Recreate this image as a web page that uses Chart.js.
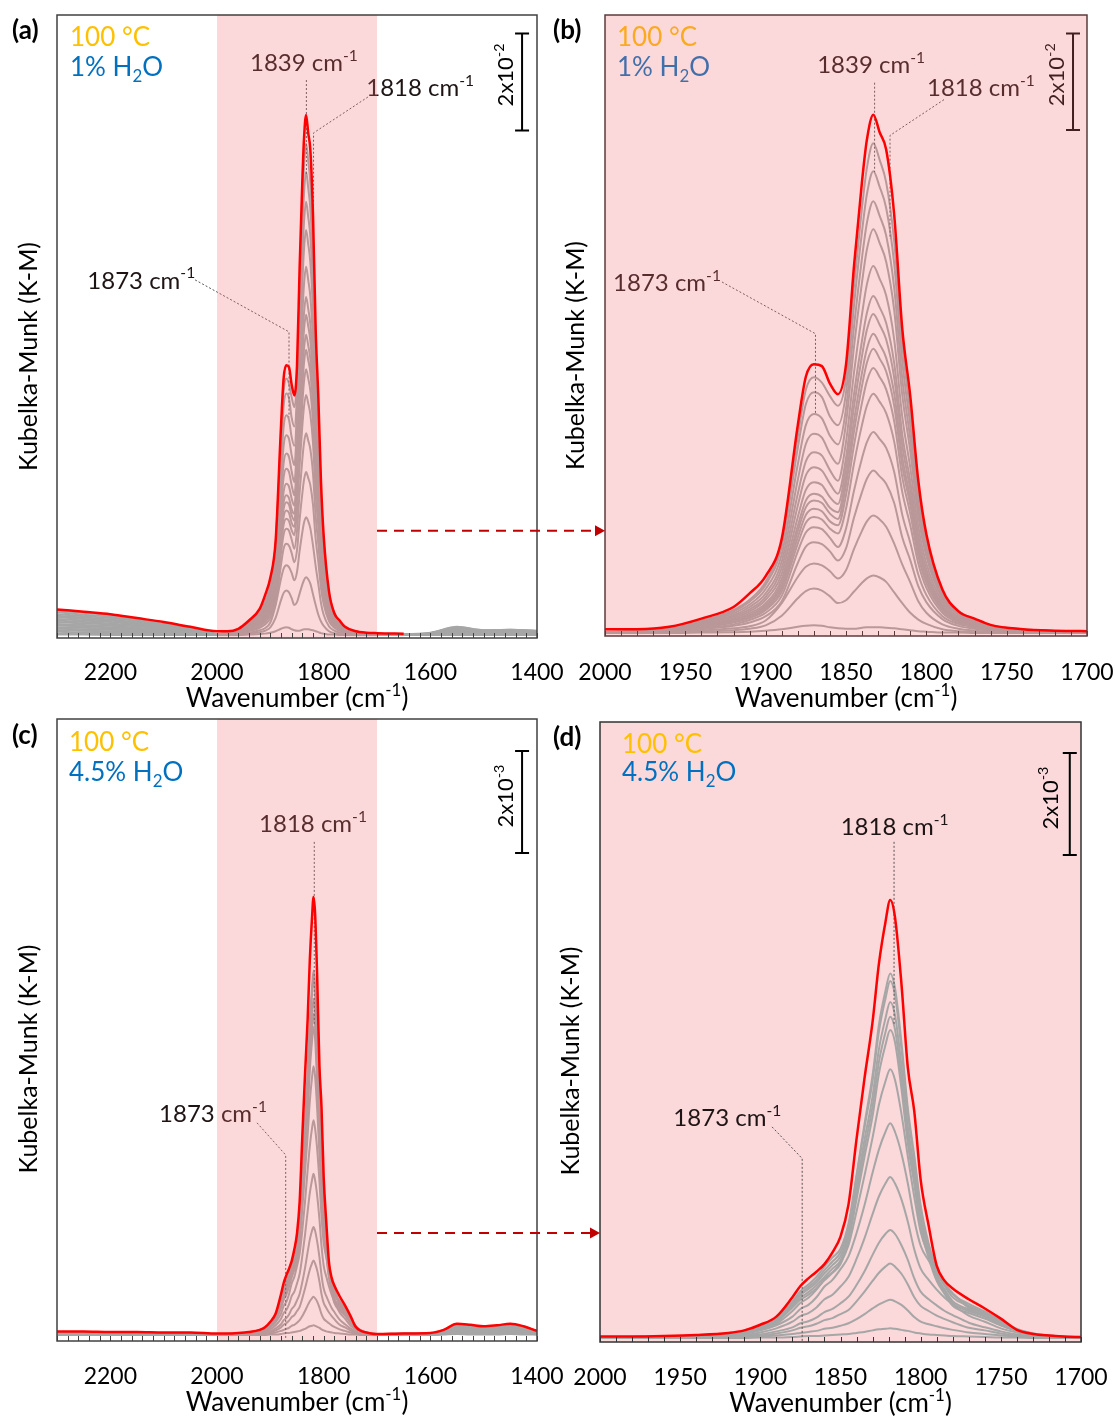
<!DOCTYPE html>
<html>
<head>
<meta charset="utf-8">
<script src="https://cdn.jsdelivr.net/npm/chart.js@4.4.1/dist/chart.umd.min.js"></script>
<style>
  body { margin: 0; background: #fff; }
  #page { position: relative; width: 1115px; height: 1419px; overflow: hidden; }
  canvas { position: absolute; }
</style>
</head>
<body>
<div id="page">
  <canvas id="panelA" width="610" height="712" style="left:0;top:0"></canvas>
  <canvas id="panelB" width="575" height="712" style="left:540px;top:0"></canvas>
  <canvas id="panelC" width="610" height="714" style="left:0;top:705px"></canvas>
  <canvas id="panelD" width="575" height="714" style="left:540px;top:705px"></canvas>
  <canvas id="arrows" width="1115" height="1419" style="left:0;top:0;pointer-events:none"></canvas>
</div>
<script>
// ---- 1% H2O spectra (K-M, units of 1e-2) ----
const wn1 = [2300, 2250, 2200, 2150, 2100, 2050, 2000, 1980, 1960, 1940, 1920, 1910, 1900, 1890, 1880, 1875, 1870, 1865, 1860, 1855, 1850, 1845, 1840, 1837, 1833, 1829, 1825, 1820, 1815, 1810, 1805, 1800, 1790, 1780, 1770, 1760, 1740, 1720, 1700, 1650, 1600, 1550, 1500, 1450, 1400]
const red1 = [0.53, 0.48, 0.43, 0.35, 0.27, 0.17, 0.08, 0.08, 0.13, 0.30, 0.54, 0.82, 1.18, 1.95, 4.30, 5.30, 5.56, 5.52, 5.16, 4.94, 5.55, 7.60, 9.35, 10.20, 10.72, 10.35, 10.00, 8.65, 6.30, 4.90, 3.15, 2.05, 0.90, 0.45, 0.30, 0.17, 0.08, 0.05, 0.04, 0.03, null, null, null, null, null]
const g1_01 = [0.50, 0.46, 0.41, 0.33, 0.26, 0.16, 0.03, 0.05, 0.11, 0.26, 0.48, 0.69, 1.06, 1.90, 4.07, 5.03, 5.29, 5.18, 4.90, 4.70, 5.27, 7.19, 8.81, 9.62, 10.13, 9.78, 9.32, 8.10, 5.98, 4.56, 2.94, 1.92, 0.86, 0.46, 0.28, 0.16, 0.08, 0.04, 0.03, 0.02, 0.05, 0.17, 0.10, 0.11, 0.09]
const g1_02 = [0.47, 0.42, 0.38, 0.31, 0.24, 0.15, 0.02, 0.05, 0.10, 0.25, 0.45, 0.65, 1.00, 1.79, 3.83, 4.73, 4.98, 4.88, 4.48, 4.30, 4.97, 6.78, 8.31, 9.07, 9.55, 9.22, 8.79, 7.64, 5.63, 4.30, 2.77, 1.81, 0.81, 0.43, 0.27, 0.15, 0.08, 0.04, 0.03, 0.02, 0.04, 0.16, 0.10, 0.11, 0.08]
const g1_03 = [0.43, 0.39, 0.35, 0.29, 0.22, 0.14, 0.02, 0.05, 0.09, 0.23, 0.41, 0.59, 0.91, 1.63, 3.49, 4.30, 4.53, 4.44, 4.08, 3.90, 4.64, 6.34, 7.77, 8.48, 8.93, 8.62, 8.22, 7.14, 5.27, 4.02, 2.59, 1.70, 0.76, 0.40, 0.25, 0.14, 0.07, 0.04, 0.03, 0.02, 0.04, 0.15, 0.09, 0.10, 0.07]
const g1_04 = [0.40, 0.36, 0.32, 0.26, 0.20, 0.13, 0.02, 0.04, 0.08, 0.21, 0.37, 0.54, 0.82, 1.48, 3.17, 3.91, 4.12, 4.04, 3.71, 3.50, 4.34, 5.93, 7.26, 7.93, 8.35, 8.06, 7.68, 6.68, 4.93, 3.76, 2.42, 1.59, 0.71, 0.38, 0.23, 0.13, 0.07, 0.03, 0.03, 0.02, 0.04, 0.14, 0.08, 0.09, 0.07]
const g1_05 = [0.37, 0.33, 0.30, 0.24, 0.19, 0.12, 0.02, 0.04, 0.07, 0.19, 0.34, 0.49, 0.75, 1.35, 2.88, 3.55, 3.74, 3.67, 3.37, 3.15, 3.95, 5.39, 6.60, 7.21, 7.59, 7.32, 6.98, 6.07, 4.48, 3.42, 2.20, 1.44, 0.65, 0.34, 0.21, 0.12, 0.06, 0.03, 0.02, 0.01, 0.03, 0.12, 0.08, 0.08, 0.06]
const g1_06 = [0.33, 0.30, 0.27, 0.22, 0.17, 0.11, 0.02, 0.03, 0.07, 0.17, 0.31, 0.45, 0.69, 1.23, 2.64, 3.26, 3.43, 3.36, 3.09, 2.88, 3.62, 4.95, 6.06, 6.62, 6.97, 6.73, 6.41, 5.58, 4.11, 3.14, 2.02, 1.32, 0.59, 0.31, 0.20, 0.11, 0.06, 0.03, 0.02, 0.01, 0.03, 0.11, 0.07, 0.08, 0.06]
const g1_07 = [0.30, 0.27, 0.24, 0.20, 0.15, 0.10, 0.02, 0.03, 0.06, 0.16, 0.28, 0.41, 0.62, 1.12, 2.40, 2.96, 3.12, 3.06, 2.81, 2.67, 3.43, 4.69, 5.74, 6.27, 6.60, 6.37, 6.07, 5.28, 3.89, 2.97, 1.91, 1.25, 0.56, 0.30, 0.18, 0.11, 0.05, 0.03, 0.02, 0.01, 0.03, 0.10, 0.06, 0.07, 0.05]
const g1_08 = [0.27, 0.24, 0.22, 0.18, 0.14, 0.09, 0.01, 0.03, 0.06, 0.14, 0.26, 0.37, 0.58, 1.04, 2.22, 2.74, 2.88, 2.82, 2.59, 2.50, 3.22, 4.39, 5.39, 5.88, 6.19, 5.97, 5.69, 4.95, 3.65, 2.79, 1.80, 1.18, 0.53, 0.28, 0.17, 0.10, 0.05, 0.02, 0.02, 0.01, 0.03, 0.09, 0.06, 0.06, 0.05]
const g1_09 = [0.23, 0.21, 0.19, 0.15, 0.12, 0.07, 0.01, 0.03, 0.05, 0.14, 0.25, 0.36, 0.55, 0.99, 2.11, 2.60, 2.74, 2.69, 2.47, 2.36, 3.06, 4.17, 5.12, 5.59, 5.88, 5.67, 5.41, 4.70, 3.47, 2.65, 1.71, 1.12, 0.50, 0.26, 0.16, 0.09, 0.05, 0.02, 0.02, 0.01, 0.02, 0.08, 0.05, 0.05, 0.04]
const g1_10 = [0.20, 0.18, 0.16, 0.13, 0.10, 0.06, 0.01, 0.03, 0.05, 0.13, 0.23, 0.33, 0.51, 0.93, 1.98, 2.44, 2.57, 2.52, 2.31, 2.23, 2.85, 3.89, 4.77, 5.21, 5.48, 5.29, 5.04, 4.38, 3.23, 2.47, 1.59, 1.04, 0.47, 0.25, 0.15, 0.09, 0.04, 0.02, 0.02, 0.01, 0.02, 0.07, 0.04, 0.05, 0.03]
const g1_11 = [0.16, 0.15, 0.13, 0.11, 0.08, 0.05, 0.01, 0.02, 0.05, 0.12, 0.22, 0.31, 0.48, 0.86, 1.85, 2.28, 2.40, 2.35, 2.16, 2.06, 2.57, 3.51, 4.31, 4.70, 4.95, 4.78, 4.55, 3.96, 2.92, 2.23, 1.44, 0.94, 0.42, 0.22, 0.14, 0.08, 0.04, 0.02, 0.01, 0.01, 0.02, 0.06, 0.03, 0.04, 0.03]
const g1_12 = [0.13, 0.12, 0.11, 0.09, 0.07, 0.04, 0.01, 0.02, 0.04, 0.10, 0.18, 0.27, 0.42, 0.77, 1.69, 2.08, 2.19, 2.15, 1.97, 1.78, 2.16, 2.95, 3.62, 3.95, 4.16, 4.01, 3.83, 3.33, 2.45, 1.87, 1.21, 0.79, 0.35, 0.19, 0.12, 0.07, 0.03, 0.02, 0.01, 0, 0.01, 0.05, 0.03, 0.03, 0.02]
const g1_13 = [0.10, 0.09, 0.08, 0.07, 0.05, 0.03, 0.01, 0.02, 0.03, 0.08, 0.15, 0.22, 0.35, 0.66, 1.45, 1.79, 1.88, 1.84, 1.69, 1.50, 1.75, 2.39, 2.92, 3.19, 3.36, 3.24, 3.09, 2.69, 1.98, 1.51, 0.97, 0.64, 0.29, 0.15, 0.09, 0.05, 0.03, 0.01, 0.01, 0, 0.01, 0.03, 0.02, 0.02, 0.02]
const g1_14 = [0.07, 0.06, 0.06, 0.05, 0.04, 0.02, 0, 0.01, 0.02, 0.05, 0.10, 0.14, 0.26, 0.62, 1.16, 1.37, 1.44, 1.40, 1.28, 1.13, 1.30, 1.74, 2.12, 2.31, 2.43, 2.35, 2.20, 1.85, 1.42, 1.05, 0.66, 0.42, 0.18, 0.09, 0.05, 0.03, 0.01, 0.01, 0, 0, 0.01, 0.02, 0.01, 0.02, 0.01]
const g1_15 = [0.03, 0.03, 0.03, 0.02, 0.02, 0.01, 0, 0, 0.01, 0.03, 0.06, 0.09, 0.16, 0.36, 0.72, 0.87, 0.92, 0.88, 0.76, 0.62, 0.68, 0.86, 1.04, 1.13, 1.19, 1.15, 1.06, 0.84, 0.62, 0.42, 0.28, 0.19, 0.08, 0.04, 0.02, 0.01, 0.01, 0, 0, 0, 0, 0.01, 0.01, 0.01, 0.01]
const g1_16 = [0.01, 0.01, 0, 0, 0, 0, 0, 0, 0, 0.01, 0.02, 0.03, 0.05, 0.08, 0.13, 0.15, 0.16, 0.15, 0.12, 0.10, 0.09, 0.09, 0.11, 0.12, 0.12, 0.12, 0.11, 0.10, 0.08, 0.06, 0.04, 0.03, 0.01, 0.01, 0, 0, 0, 0, 0, 0, 0, 0, 0, 0, 0]
const greys1 = [g1_01, g1_02, g1_03, g1_04, g1_05, g1_06, g1_07, g1_08, g1_09, g1_10, g1_11, g1_12, g1_13, g1_14, g1_15, g1_16]

// ---- 4.5% H2O spectra (K-M, units of 1e-3) ----
const wn2 = [2300, 2250, 2200, 2150, 2100, 2050, 2000, 1980, 1960, 1940, 1920, 1910, 1900, 1890, 1880, 1875, 1870, 1865, 1860, 1855, 1850, 1845, 1840, 1835, 1830, 1826, 1822, 1819, 1816, 1812, 1808, 1804, 1800, 1795, 1790, 1785, 1780, 1770, 1760, 1750, 1740, 1730, 1720, 1700, 1650, 1600, 1575, 1550, 1525, 1500, 1475, 1450, 1425, 1400]
const red2 = [0.07, 0.07, 0.06, 0.06, 0.05, 0.05, 0.03, 0.03, 0.04, 0.06, 0.10, 0.15, 0.26, 0.42, 0.80, 1.02, 1.17, 1.30, 1.45, 1.68, 1.99, 2.62, 3.90, 5.10, 6.20, 7.35, 8.15, 8.59, 8.25, 6.95, 5.30, 4.45, 3.10, 2.20, 1.42, 1.12, 0.97, 0.76, 0.58, 0.38, 0.16, 0.08, 0.05, 0.02, 0.03, 0.04, 0.10, 0.22, 0.20, 0.17, 0.19, 0.22, 0.17, 0.08]
const g2_01 = [0.06, 0.06, 0.05, 0.05, 0.04, 0.04, 0.01, 0.02, 0.03, 0.05, 0.10, 0.13, 0.22, 0.38, 0.72, 0.92, 1.05, 1.20, 1.40, 1.58, 1.75, 2.25, 3.20, 4.20, 5.15, 6.15, 6.80, 7.15, 6.86, 5.80, 4.50, 3.58, 2.60, 1.85, 1.36, 1.07, 0.86, 0.67, 0.52, 0.34, 0.18, 0.09, 0.05, 0.02, 0.03, 0.04, 0.10, 0.21, 0.19, 0.16, 0.18, 0.21, 0.16, 0.08]
const g2_02 = [0.05, 0.05, 0.05, 0.04, 0.04, 0.03, 0.01, 0.02, 0.03, 0.05, 0.09, 0.13, 0.21, 0.36, 0.69, 0.87, 1.00, 1.14, 1.33, 1.50, 1.68, 2.17, 3.15, 4.13, 5.04, 6.02, 6.65, 7.00, 6.72, 5.67, 4.41, 3.50, 2.52, 1.80, 1.30, 1.02, 0.80, 0.63, 0.49, 0.32, 0.17, 0.09, 0.05, 0.02, 0.03, 0.03, 0.09, 0.19, 0.17, 0.15, 0.17, 0.19, 0.15, 0.07]
const g2_03 = [0.05, 0.05, 0.04, 0.04, 0.03, 0.03, 0.01, 0.02, 0.03, 0.05, 0.09, 0.12, 0.20, 0.34, 0.66, 0.84, 0.96, 1.09, 1.27, 1.43, 1.60, 2.07, 2.97, 3.89, 4.74, 5.67, 6.26, 6.59, 6.33, 5.34, 4.15, 3.30, 2.37, 1.70, 1.22, 0.95, 0.72, 0.56, 0.44, 0.29, 0.16, 0.08, 0.04, 0.02, 0.02, 0.03, 0.08, 0.17, 0.16, 0.13, 0.15, 0.17, 0.13, 0.06]
const g2_04 = [0.04, 0.04, 0.04, 0.03, 0.03, 0.03, 0.01, 0.02, 0.03, 0.04, 0.08, 0.12, 0.19, 0.33, 0.63, 0.79, 0.90, 1.03, 1.20, 1.36, 1.52, 1.98, 2.84, 3.72, 4.54, 5.42, 5.99, 6.30, 6.05, 5.10, 3.97, 3.15, 2.27, 1.62, 1.16, 0.91, 0.68, 0.53, 0.42, 0.27, 0.15, 0.07, 0.04, 0.01, 0.02, 0.03, 0.07, 0.16, 0.14, 0.12, 0.13, 0.16, 0.12, 0.06]
const g2_05 = [0.04, 0.04, 0.03, 0.03, 0.03, 0.02, 0.01, 0.02, 0.02, 0.04, 0.08, 0.11, 0.18, 0.31, 0.60, 0.75, 0.85, 0.97, 1.13, 1.28, 1.45, 1.90, 2.72, 3.56, 4.35, 5.19, 5.74, 6.04, 5.80, 4.89, 3.81, 3.02, 2.17, 1.57, 1.12, 0.86, 0.63, 0.49, 0.38, 0.25, 0.14, 0.07, 0.04, 0.01, 0.02, 0.03, 0.06, 0.14, 0.13, 0.11, 0.12, 0.14, 0.11, 0.05]
const g2_06 = [0.03, 0.03, 0.03, 0.03, 0.02, 0.02, 0.00, 0.01, 0.01, 0.03, 0.07, 0.10, 0.16, 0.28, 0.53, 0.69, 0.79, 0.95, 1.16, 1.29, 1.48, 1.82, 2.48, 3.19, 3.93, 4.58, 5.03, 5.27, 5.06, 4.40, 3.56, 2.77, 2.08, 1.63, 1.29, 1.05, 0.87, 0.62, 0.46, 0.28, 0.16, 0.08, 0.04, 0.01, 0.02, 0.02, 0.06, 0.12, 0.11, 0.09, 0.10, 0.12, 0.09, 0.04]
const g2_07 = [0.03, 0.03, 0.02, 0.02, 0.02, 0.02, 0, 0, 0, 0.02, 0.05, 0.08, 0.15, 0.25, 0.42, 0.57, 0.65, 0.80, 1.01, 1.14, 1.35, 1.60, 2.06, 2.61, 3.24, 3.70, 4.04, 4.21, 4.04, 3.62, 3.03, 2.32, 1.81, 1.52, 1.26, 1.05, 0.88, 0.59, 0.42, 0.25, 0.15, 0.08, 0.04, 0, 0.01, 0.02, 0.05, 0.10, 0.09, 0.08, 0.09, 0.10, 0.08, 0.04]
const g2_08 = [0.02, 0.02, 0.02, 0.02, 0.02, 0.01, 0, 0, 0, 0.02, 0.04, 0.06, 0.11, 0.19, 0.32, 0.43, 0.49, 0.60, 0.76, 0.85, 1.01, 1.20, 1.55, 1.96, 2.43, 2.78, 3.03, 3.16, 3.03, 2.72, 2.28, 1.74, 1.36, 1.14, 0.95, 0.79, 0.66, 0.44, 0.32, 0.19, 0.11, 0.06, 0.03, 0, 0.01, 0.02, 0.04, 0.09, 0.08, 0.07, 0.07, 0.09, 0.07, 0.03]
const g2_09 = [0.02, 0.02, 0.01, 0.01, 0.01, 0.01, 0, 0, 0, 0.01, 0.03, 0.04, 0.07, 0.13, 0.21, 0.29, 0.33, 0.40, 0.51, 0.57, 0.68, 0.81, 1.04, 1.31, 1.63, 1.87, 2.04, 2.12, 2.04, 1.82, 1.53, 1.17, 0.91, 0.76, 0.64, 0.53, 0.45, 0.30, 0.21, 0.13, 0.07, 0.04, 0.02, 0, 0.01, 0.01, 0.03, 0.07, 0.06, 0.05, 0.06, 0.07, 0.05, 0.02]
const g2_10 = [0.01, 0.01, 0.01, 0.01, 0.01, 0.01, 0, 0, 0, 0.01, 0.02, 0.03, 0.05, 0.09, 0.15, 0.20, 0.23, 0.28, 0.35, 0.39, 0.47, 0.55, 0.72, 0.91, 1.12, 1.28, 1.40, 1.46, 1.40, 1.26, 1.05, 0.80, 0.63, 0.53, 0.44, 0.37, 0.31, 0.20, 0.15, 0.09, 0.05, 0.03, 0.01, 0, 0.01, 0.01, 0.02, 0.05, 0.05, 0.04, 0.04, 0.05, 0.04, 0.02]
const g2_11 = [0.01, 0.01, 0.01, 0, 0, 0, 0, 0, 0, 0, 0.01, 0.02, 0.03, 0.05, 0.08, 0.10, 0.12, 0.14, 0.18, 0.20, 0.24, 0.29, 0.37, 0.47, 0.58, 0.66, 0.72, 0.75, 0.72, 0.65, 0.54, 0.41, 0.32, 0.27, 0.23, 0.19, 0.16, 0.11, 0.08, 0.05, 0.03, 0.02, 0.01, 0, 0, 0.01, 0.02, 0.03, 0.03, 0.03, 0.03, 0.03, 0.03, 0.01]
const g2_12 = [0, 0, 0, 0, 0, 0, 0, 0, 0, 0, 0, 0, 0.01, 0.01, 0.02, 0.03, 0.04, 0.04, 0.05, 0.06, 0.07, 0.08, 0.10, 0.12, 0.15, 0.17, 0.18, 0.19, 0.18, 0.16, 0.14, 0.11, 0.09, 0.07, 0.06, 0.05, 0.04, 0.03, 0.02, 0.01, 0.01, 0, 0, 0, 0, 0, 0.01, 0.02, 0.01, 0.01, 0.01, 0.02, 0.01, 0.01]
const greys2 = [g2_01, g2_02, g2_03, g2_04, g2_05, g2_06, g2_07, g2_08, g2_09, g2_10, g2_11, g2_12]

const GREY = '#a6a6a6'
const RED = '#ff0000'
const SHADE = 'rgba(240,110,115,0.27)'
const FONT = 'Lato'

Chart.defaults.font.family = FONT

function pts(wn, vals) {
  return wn.map((w, i) => ({x: w, y: vals[i]}))
}

function parseRich(s) {
  const parts = []
  const re = /([\^_])\{([^}]*)\}/g
  let last = 0, m
  while ((m = re.exec(s))) {
    if (m.index > last) parts.push([s.slice(last, m.index), 'n'])
    parts.push([m[2], m[1] === '^' ? 'sup' : 'sub'])
    last = re.lastIndex
  }
  if (last < s.length) parts.push([s.slice(last), 'n'])
  return parts
}

// y is the visual middle of the capitals
function drawRich(ctx, s, x, y, size, color, align, bold) {
  const w8 = bold ? 'bold ' : ''
  const items = parseRich(s).map(([t, m]) => {
    const fs = m === 'n' ? size : size * 0.65
    ctx.font = `${w8}${fs}px ${FONT}`
    return {t, m, fs, w: ctx.measureText(t).width}
  })
  const total = items.reduce((a, i) => a + i.w, 0)
  let cx = align === 'center' ? x - total / 2 : align === 'right' ? x - total : x
  const base = y + size * 0.36
  ctx.fillStyle = color
  ctx.textAlign = 'left'
  ctx.textBaseline = 'alphabetic'
  items.forEach(i => {
    ctx.font = `${w8}${i.fs}px ${FONT}`
    const by = i.m === 'sup' ? base - size * 0.42 : i.m === 'sub' ? base + size * 0.2 : base
    ctx.fillText(i.t, cx, by)
    cx += i.w
  })
}

function drawNotes(chart, o) {
  const {ctx, chartArea: a, scales: {x, y}} = chart
  ctx.save()
  // dotted leader lines
  ctx.strokeStyle = '#555'
  ctx.lineWidth = 1
  ctx.setLineDash([2, 2])
  ;(o.leaders || []).forEach(line => {
    ctx.beginPath()
    line.forEach(([wx, wy], i) => {
      const px = x.getPixelForValue(wx), py = y.getPixelForValue(wy)
      if (i === 0) ctx.moveTo(px, py); else ctx.lineTo(px, py)
    })
    ctx.stroke()
  })
  ctx.setLineDash([])
  ;(o.labels || []).forEach(l => {
    drawRich(ctx, l.t, x.getPixelForValue(l.x), y.getPixelForValue(l.y), 24, '#1e1414', 'center')
  })
  // scale bar
  const sb = o.scaleBar
  if (sb) {
    const px = x.getPixelForValue(sb.x), p0 = y.getPixelForValue(sb.y0), p1 = y.getPixelForValue(sb.y1)
    ctx.strokeStyle = '#000'
    ctx.lineWidth = 2
    ctx.beginPath()
    ctx.moveTo(px, p0); ctx.lineTo(px, p1)
    ctx.moveTo(px - 7, p0); ctx.lineTo(px + 7, p0)
    ctx.moveTo(px - 7, p1); ctx.lineTo(px + 7, p1)
    ctx.stroke()
    ctx.save()
    ctx.translate(px + sb.dx, (p0 + p1) / 2 + sb.dy)
    ctx.rotate(-Math.PI / 2)
    drawRich(ctx, sb.label, 0, 0, 22, '#000', 'center')
    ctx.restore()
  }
  // corner texts
  ;(o.texts || []).forEach(t => {
    drawRich(ctx, t.t, a.left + t.dx, a.top + t.dy, t.size, t.color, 'left', t.bold)
  })
  // axis titles
  const midY = (a.top + a.bottom) / 2, midX = (a.left + a.right) / 2
  ctx.save()
  ctx.translate(a.left + o.yTitle.dx, midY + o.yTitle.dy)
  ctx.rotate(-Math.PI / 2)
  drawRich(ctx, 'Kubelka-Munk (K-M)', 0, 0, 25, '#000', 'center')
  ctx.restore()
  drawRich(ctx, 'Wavenumber (cm^{-1})', midX, a.bottom + o.xTitleDy, 26, '#000', 'center')
  ctx.restore()
}

const panelPlugin = {
  id: 'panel',
  beforeDatasetsDraw(chart, args, o) {
    if (!o.backFill) return
    const {ctx, chartArea: a} = chart
    ctx.save()
    ctx.fillStyle = o.backFill
    ctx.fillRect(a.left, a.top, a.right - a.left, a.bottom - a.top)
    ctx.restore()
  },
  afterDatasetDraw(chart, args, o) {
    if (args.index !== 1) return
    drawNotes(chart, o)
    if (o.shade) {
      const {ctx, chartArea: a, scales: {x}} = chart
      const x1 = x.getPixelForValue(o.shade[0]), x2 = x.getPixelForValue(o.shade[1])
      ctx.save()
      ctx.fillStyle = SHADE
      ctx.fillRect(Math.min(x1, x2), a.top, Math.abs(x2 - x1), a.bottom - a.top)
      ctx.restore()
    }
  },
  afterDraw(chart, args, o) {
    const {ctx, chartArea: a, scales: {x}} = chart
    ctx.save()
    ctx.strokeStyle = o.frame
    ctx.lineWidth = 1.5
    ctx.strokeRect(a.left, a.top, a.right - a.left, a.bottom - a.top)
    ctx.lineWidth = 1
    ctx.beginPath()
    x.ticks.forEach(t => {
      const px = Math.round(x.getPixelForValue(t.value)) + 0.5
      ctx.moveTo(px, a.bottom)
      ctx.lineTo(px, a.bottom - 5)
    })
    ctx.stroke()
    ctx.restore()
  }
}

function makePanel(id, c) {
  const datasets = [{data: pts(c.wn, c.red), borderColor: RED, borderWidth: 2.5}]
  c.greys.forEach(g => datasets.push({data: pts(c.wn, g), borderColor: GREY, borderWidth: 2}))
  datasets.forEach(d => Object.assign(d, {pointRadius: 0, fill: false, cubicInterpolationMode: 'monotone', spanGaps: false}))
  return new Chart(document.getElementById(id), {
    type: 'line',
    data: {datasets},
    options: {
      responsive: false,
      animation: false,
      events: [],
      layout: {padding: c.pad},
      plugins: {legend: {display: false}, tooltip: {enabled: false}, panel: c.panel},
      scales: {
        x: {
          type: 'linear', reverse: true, min: c.xmin, max: c.xmax,
          afterFit: s => { s.height = c.axisH; s.paddingLeft = 0; s.paddingRight = 0 },
          border: {display: false},
          grid: {display: false, drawTicks: false},
          ticks: {
            stepSize: c.minor, autoSkip: false, maxRotation: 0, padding: c.tickPad, color: '#000',
            font: {size: 23},
            callback: v => (v % c.major === 0 ? String(v) : '')
          }
        },
        y: {display: false, min: c.ymin, max: c.ymax}
      }
    },
    plugins: [panelPlugin]
  })
}

const chartA = makePanel('panelA', {
  wn: wn1, red: red1, greys: greys1,
  xmin: 1400, xmax: 2300, minor: 20, major: 200, ymin: -0.06, ymax: 12.78,
  pad: {left: 57, top: 15, right: 73, bottom: 0}, axisH: 74, tickPad: 21,
  panel: {
    shade: [2000, 1700], frame: '#404040',
    labels: [{t: '1839 cm^{-1}', x: 1837, y: 11.81}, {t: '1818 cm^{-1}', x: 1619, y: 11.28}, {t: '1873 cm^{-1}', x: 2142, y: 7.32}],
    leaders: [[[1832.4, 11.44], [1832.4, 9.48]], [[1717, 11.09], [1819, 10.35], [1819, 8.21]], [[2041, 7.32], [1865, 6.25], [1865, 4.49]]],
    scaleBar: {x: 1428, y0: 10.4, y1: 12.4, label: '2x10^{-2}', dx: -17, dy: -7},
    texts: [
      {t: '(a)', dx: -45, dy: 15, size: 26, color: '#000', bold: true},
      {t: '100 °C', dx: 13, dy: 22, size: 26, color: '#ffc000'},
      {t: '1% H_{2}O', dx: 13, dy: 52, size: 26, color: '#0070c0'}
    ],
    yTitle: {dx: -29, dy: 30}, xTitleDy: 60
  }
})

const chartB = makePanel('panelB', {
  wn: wn1, red: red1, greys: greys1,
  xmin: 1700, xmax: 2000, minor: 10, major: 50, ymin: -0.06, ymax: 12.78,
  pad: {left: 65, top: 15, right: 28, bottom: 0}, axisH: 76, tickPad: 23,
  panel: {
    shade: [2000, 1700], frame: '#5e3b3b',
    labels: [{t: '1839 cm^{-1}', x: 1834.4, y: 11.75}, {t: '1818 cm^{-1}', x: 1766, y: 11.28}, {t: '1873 cm^{-1}', x: 1961.4, y: 7.26}],
    leaders: [[[1832.2, 11.38], [1832.2, 9.53]], [[1789, 11.03], [1822.6, 10.29], [1822.6, 8.15]], [[1927.2, 7.26], [1869, 6.19], [1869, 4.55]]],
    scaleBar: {x: 1708.7, y0: 10.4, y1: 12.4, label: '2x10^{-2}', dx: -17, dy: -7},
    texts: [
      {t: '(b)', dx: -52, dy: 15, size: 26, color: '#000', bold: true},
      {t: '100 °C', dx: 12, dy: 22, size: 26, color: '#ffc000'},
      {t: '1% H_{2}O', dx: 12, dy: 52, size: 26, color: '#0070c0'}
    ],
    yTitle: {dx: -30, dy: 30}, xTitleDy: 62
  }
})

const chartC = makePanel('panelC', {
  wn: wn2, red: red2, greys: greys2,
  xmin: 1400, xmax: 2300, minor: 20, major: 200, ymin: -0.118, ymax: 12.08,
  pad: {left: 57, top: 14, right: 73, bottom: 0}, axisH: 78, tickPad: 22,
  panel: {
    shade: [2000, 1700], frame: '#404040',
    labels: [{t: '1818 cm^{-1}', x: 1820, y: 10.04}, {t: '1873 cm^{-1}', x: 2007.5, y: 4.35}],
    leaders: [[[1817.6, 9.67], [1817.6, 6.08]], [[1925, 4.16], [1871.2, 3.53], [1871.2, -0.06]]],
    scaleBar: {x: 1428, y0: 9.45, y1: 11.45, label: '2x10^{-3}', dx: -17, dy: -6},
    texts: [
      {t: '(c)', dx: -45, dy: 16, size: 26, color: '#000', bold: true},
      {t: '100 °C', dx: 12, dy: 23, size: 26, color: '#ffc000'},
      {t: '4.5% H_{2}O', dx: 12, dy: 53, size: 26, color: '#0070c0'}
    ],
    yTitle: {dx: -29, dy: 29}, xTitleDy: 61
  }
})

const chartD = makePanel('panelD', {
  wn: wn2, red: red2, greys: greys2,
  xmin: 1700, xmax: 2000, minor: 10, major: 50, ymin: -0.078, ymax: 12.08,
  pad: {left: 60, top: 17, right: 34, bottom: 0}, axisH: 77, tickPad: 22,
  panel: {
    backFill: '#fbd8d9', frame: '#333333',
    labels: [{t: '1818 cm^{-1}', x: 1816.25, y: 10.04}, {t: '1873 cm^{-1}', x: 1920.6, y: 4.33}],
    leaders: [[[1816.6, 9.73], [1816.6, 6.14]], [[1892.7, 4.14], [1873.9, 3.52], [1873.9, -0.08]]],
    scaleBar: {x: 1707, y0: 9.47, y1: 11.47, label: '2x10^{-3}', dx: -20, dy: -6},
    texts: [
      {t: '(d)', dx: -47, dy: 15, size: 26, color: '#000', bold: true},
      {t: '100 °C', dx: 22, dy: 22, size: 26, color: '#ffc000'},
      {t: '4.5% H_{2}O', dx: 22, dy: 50, size: 26, color: '#0070c0'}
    ],
    yTitle: {dx: -30, dy: 29}, xTitleDy: 61
  }
})

// dashed "zoom" arrows linking the overview panels to the zoomed panels
function drawArrow(ctx, x0, x1, y) {
  ctx.save()
  ctx.strokeStyle = '#c00000'
  ctx.fillStyle = '#c00000'
  ctx.lineWidth = 2
  ctx.setLineDash([10, 7])
  ctx.beginPath()
  ctx.moveTo(x0, y)
  ctx.lineTo(x1 - 10, y)
  ctx.stroke()
  ctx.setLineDash([])
  ctx.beginPath()
  ctx.moveTo(x1, y)
  ctx.lineTo(x1 - 10, y - 5.5)
  ctx.lineTo(x1 - 10, y + 5.5)
  ctx.closePath()
  ctx.fill()
  ctx.restore()
}

const actx = document.getElementById('arrows').getContext('2d')
drawArrow(actx, chartA.scales.x.getPixelForValue(1700), 540 + chartB.chartArea.left, chartA.scales.y.getPixelForValue(2.15))
drawArrow(actx, chartC.scales.x.getPixelForValue(1700), 540 + chartD.chartArea.left, 705 + chartC.scales.y.getPixelForValue(2.0))
</script>
</body>
</html>
